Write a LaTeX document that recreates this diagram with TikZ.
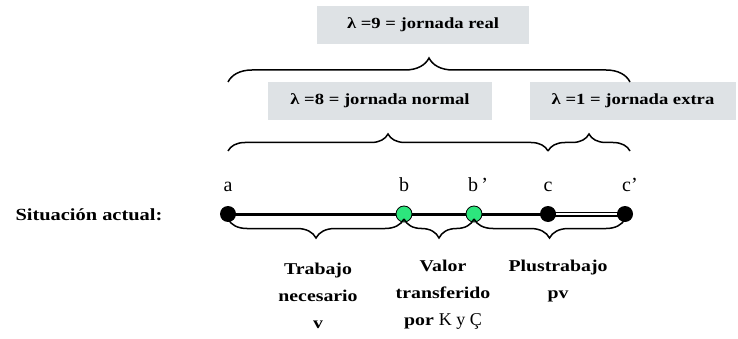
\documentclass[tikz,border=0pt]{standalone}
\usepackage{fontspec}
\setmainfont{Liberation Serif}
\newfontfamily\widefont[FakeStretch=1.2]{Liberation Serif}
\usetikzlibrary{decorations.pathreplacing}
\definecolor{boxgray}{RGB}{222,226,229}
\definecolor{dotgreen}{RGB}{45,230,125}
\tikzset{
  lbox/.style={fill=boxgray, inner sep=0pt, font=\widefont\bfseries\fontsize{15.5}{17}\selectfont},
  ptlabel/.style={font=\fontsize{20}{22}\selectfont},
  txt/.style={font=\widefont\bfseries\fontsize{16.5}{27}\selectfont, align=center},
  bracetop/.style={decorate, decoration={brace, amplitude=#1}, line width=1.5pt},
  bracebot/.style={decorate, decoration={brace, amplitude=#1, mirror}, line width=1.5pt},
  blackdot/.style={circle, fill=black, minimum size=16pt, inner sep=0pt},
  greendot/.style={circle, fill=dotgreen, draw=black, line width=0.8pt, minimum size=16pt, inner sep=0pt}
}
\begin{document}
\begin{tikzpicture}[x=1pt,y=-1pt]
\useasboundingbox (0,0) rectangle (738,339);
% boxes
\node[lbox, minimum width=212pt, minimum height=38pt] (b9) at (423,25) {λ =9 = jornada real};
\node[lbox, minimum width=224pt, minimum height=38pt] (b8) at (380,101) {λ =8 = jornada normal};
\node[lbox, minimum width=206pt, minimum height=38pt] (b1) at (633,101) {λ =1 = jornada extra};
% points
\coordinate (a) at (228,214);
\coordinate (b) at (404,214);
\coordinate (bp) at (474,214);
\coordinate (c) at (548,214);
\coordinate (cp) at (625,214);
% top braces
\draw[bracetop=24pt] (228,82) -- (630,82);
\draw[bracetop=17pt] (228,151) -- (548,151);
\draw[bracetop=17pt] (548,151) -- (630,151);
% labels
\node[ptlabel, anchor=base] (la) at (228,191) {a};
\node[ptlabel, anchor=base] (lb) at (404,191) {b};
\node[ptlabel, anchor=base] (lbp) at (478,191) {b\,’};
\node[ptlabel, anchor=base] (lc) at (548,191) {c};
\node[ptlabel, anchor=base] (lcp) at (630,191) {c’};
\node[font=\widefont\bfseries\fontsize{17}{19}\selectfont, anchor=west] (sit) at (12,215) {Situación actual:};
% line
\draw[line width=3pt] (a) -- (c);
\draw[double, line width=1.1pt, double distance=2.8pt] (c) -- (cp);
\node[blackdot] (da) at (a) {};
\node[greendot] (db) at (b) {};
\node[greendot] (dbp) at (bp) {};
\node[blackdot] (dc) at (c) {};
\node[blackdot] (dcp) at (cp) {};
% bottom braces
\draw[bracebot=19pt] (228,219) -- (404,219);
\draw[bracebot=19pt] (404,219) -- (474,219);
\draw[bracebot=19pt] (474,219) -- (625,219);
% bottom texts
\node[txt, anchor=north] (t1) at (318,260) {Trabajo\\necesario\\v};
\node[txt, anchor=north] (t2) at (443,257) {Valor\\transferido\\por {\normalfont\mdseries\fontsize{18}{27}\selectfont K y Ç}};
\node[txt, anchor=north] (t3) at (558,257) {Plustrabajo\\pv};
\end{tikzpicture}
\end{document}
